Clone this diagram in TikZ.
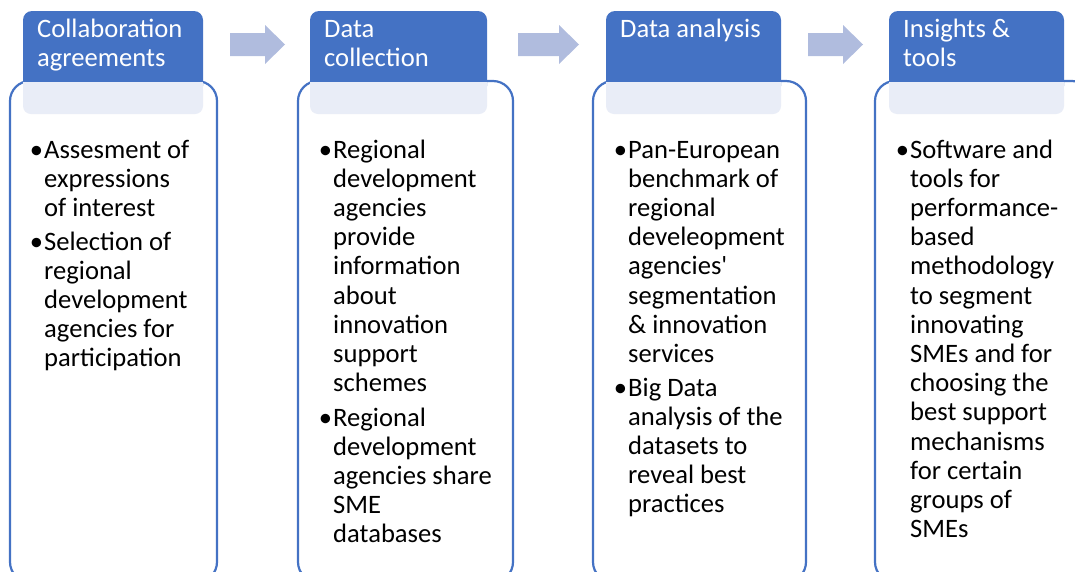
\documentclass[tikz,border=0pt]{standalone}
\usepackage{fontspec}
\setmainfont{Carlito}
\definecolor{hdrblue}{RGB}{68,114,196}
\definecolor{barblue}{RGB}{233,237,247}
\definecolor{arrowblue}{RGB}{176,188,222}
\newcommand{\bul}{\llap{•\hspace{1pt}}}
\begin{document}
\begin{tikzpicture}[x=1pt,y=-1pt,
  outerbox/.style={draw=hdrblue,line width=2.2pt,fill=white,rounded corners=20pt},
  hdrbox/.style={fill=hdrblue,rounded corners=9pt},
  barbox/.style={fill=barblue},
  txt/.style={anchor=base west,inner sep=0pt,font=\fontsize{26.6}{29.2}\selectfont,text width=230pt,align=flush left},
  hdrtext/.style={txt,text=white},
  itemtext/.style={txt,text=black},
  flowarrow/.style={fill=arrowblue}]
\useasboundingbox (0,0) rectangle (1075,571);
\clip (0,0) rectangle (1075,571);
% columns: box left, box right, header left, header right
\foreach \bl/\br/\hl/\hr in {10/217/23/203, 298/513/310/487, 593/806/606/781, 875/1092/889/1064}{
  \draw[outerbox] (\bl,81) rectangle (\br,582);
  \fill[hdrbox] (\hl,11) rectangle (\hr,95);
  \fill[barbox,rounded corners=8pt] (\hl,82) rectangle (\hr,114);
  \fill[barbox] (\hl,82) rectangle (\hr,98);
}
% arrows
\foreach \ax/\sl in {230/35, 518/41, 808/35}{
  \fill[flowarrow] (\ax,33) -- ({\ax+\sl},33) -- ({\ax+\sl},25) -- ({\ax+\sl+20},44.5)
    -- ({\ax+\sl},64) -- ({\ax+\sl},56) -- (\ax,56) -- cycle;
}
% headers
\node[hdrtext] (h1) at (37,37) {Collaboration\\agreements};
\node[hdrtext] (h2) at (324,37) {Data\\collection};
\node[hdrtext] (h3) at (620,37) {Data analysis};
\node[hdrtext] (h4) at (903,37) {Insights \&\\tools};
% items
\node[itemtext] (c1a) at (44,158) {\bul Assesment of\\expressions\\of interest};
\node[itemtext] (c1b) at (44,250) {\bul Selection of\\regional\\development\\agencies for\\participation};
\node[itemtext] (c2a) at (333,158) {\bul Regional\\development\\agencies\\provide\\information\\about\\innovation\\support\\schemes};
\node[itemtext] (c2b) at (333,426) {\bul Regional\\development\\agencies share\\SME\\databases};
\node[itemtext] (c3a) at (628,158) {\bul Pan-European\\benchmark of\\regional\\develeopment\\agencies\textquotesingle\\segmentation\\\& innovation\\services};
\node[itemtext] (c3b) at (628,396) {\bul Big Data\\analysis of the\\datasets to\\reveal best\\practices};
\node[itemtext] (c4a) at (910,158) {\bul Software and\\tools for\\performance-\\based\\methodology\\to segment\\innovating\\SMEs and for\\choosing the\\best support\\mechanisms\\for certain\\groups of\\SMEs};
\end{tikzpicture}
\end{document}
